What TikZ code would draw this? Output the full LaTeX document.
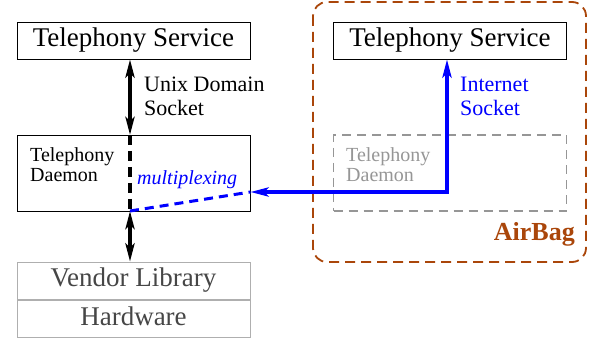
\documentclass[tikz,border=0pt]{standalone}
\usepackage{fontspec}
\setmainfont{Liberation Serif}
\usetikzlibrary{arrows.meta,fit,positioning}
\definecolor{airbag}{RGB}{170,70,10}
\definecolor{ghost}{RGB}{150,150,150}
\definecolor{vendorfg}{RGB}{70,70,70}
\definecolor{vendorbd}{RGB}{175,175,175}
\tikzset{
    %Define standard arrow tip
    >={Stealth[length=18pt,width=9pt,inset=4pt]},
    %Define style for boxes
    service/.style={
           rectangle,
           draw=black, line width=0.8pt,
           minimum width=233pt,
           minimum height=37pt,
           inner sep=0pt,
           text height=18.4pt, text depth=6pt,
           font=\fontsize{27}{30}\selectfont,
           text centered},
    daemon/.style={
           rectangle,
           draw=black, line width=0.8pt,
           minimum width=233pt,
           minimum height=76pt,
           inner sep=0pt},
    ghostdaemon/.style={
           daemon,
           draw=ghost, line width=1.5pt,
           dash pattern=on 9pt off 6pt},
    vendorbox/.style={
           rectangle,
           draw=vendorbd, line width=0.8pt,
           minimum width=233pt,
           minimum height=37.5pt,
           inner sep=0pt,
           text height=18.4pt, text depth=6pt,
           text=vendorfg,
           font=\fontsize{27}{30}\selectfont,
           text centered},
    smalltext/.style={
           inner sep=0pt,
           align=left,
           font=\fontsize{20}{20}\selectfont},
    sock/.style={
           inner sep=0pt,
           align=left,
           font=\fontsize{22}{24}\selectfont},
    % Define arrow style
    pil/.style={
           line width=3.5pt},
    blueline/.style={
           blue, line width=3.5pt}
}
\begin{document}
\begin{tikzpicture}[x=1pt,y=-1pt]
\useasboundingbox (0,0) rectangle (590,339);
 %nodes
\node[service](svcL) at (133.5,40.5){Telephony Service};
\node[daemon](dmnL) at (133.5,173){};
\node[smalltext, anchor=north west](dtxt) at (30,147.5){Telephony\\Daemon};
\node[vendorbox](vendor) at (133.5,280.75){Vendor Library};
\node[vendorbox, below=0pt of vendor](hw){Hardware};
\node[service](svcR) at (450,40.5){Telephony Service};
\node[ghostdaemon](dmnR) at (450,173){};
\node[smalltext, text=ghost, anchor=north west](gtxt) at (346,147.5){Telephony\\Daemon};
 %airbag
\draw[airbag, line width=1.8pt, dash pattern=on 10pt off 6pt, rounded corners=14pt]
   (313,2) rectangle (586,262);
\node[airbag, inner sep=0pt, anchor=base east,
   font=\bfseries\fontsize{26}{30}\selectfont](bag) at (575,241){AirBag};
 %points
\coordinate (mtop) at (130,135);
\coordinate (mux) at (130,211);
\coordinate (turn) at (447,192);
 %connectors
\draw[<->, pil] (svcL.south -| mux) -- (mtop);
\draw[pil, dash pattern=on 10pt off 6pt] (mtop) -- (mux);
\draw[<->, pil] (mux) -- (vendor.north -| mux);
\draw[<->, blueline] (svcR.south -| turn) -- (turn) -- (turn -| dmnL.east);
\draw[blueline, line width=3pt, dash pattern=on 9pt off 6pt] (mux) -- (turn -| dmnL.east);
 %labels
\node[sock, anchor=north west](unix) at (144,76.5){Unix Domain\\Socket};
\node[sock, text=blue, anchor=north west](inet) at (460,76.5){Internet\\Socket};
\node[blue, inner sep=0pt, anchor=base west,
   font=\itshape\fontsize{20}{24}\selectfont](mplx) at (137,185){multiplexing};
\end{tikzpicture}
\end{document}
